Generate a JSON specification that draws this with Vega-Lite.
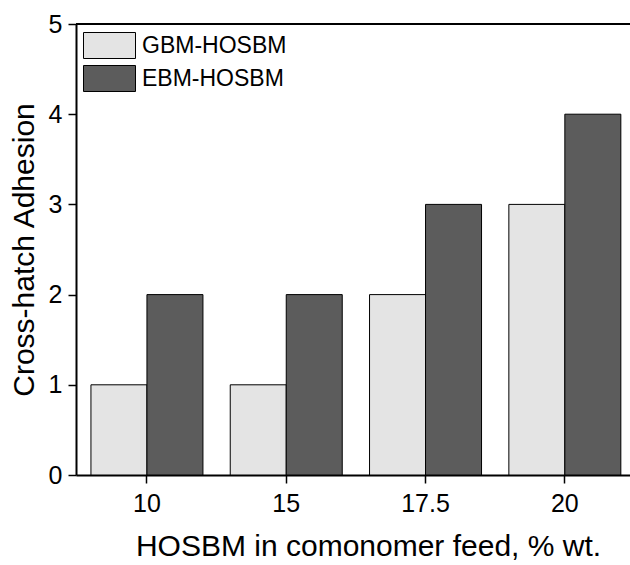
{
  "$schema": "https://vega.github.io/schema/vega-lite/v6.json",
  "width": 554,
  "height": 451,
  "autosize": {"type": "none"},
  "padding": {"left": 76, "top": 24, "right": 0, "bottom": 90},
  "background": "white",
  "config": {
    "view": {"stroke": null},
    "font": "Liberation Sans",
    "axis": {
      "domainColor": "black",
      "domainWidth": 2,
      "tickColor": "black",
      "tickWidth": 1.5,
      "tickSize": 8,
      "labelFontSize": 25,
      "labelColor": "black",
      "titleFontSize": 30,
      "titleFontWeight": "normal",
      "titleColor": "black",
      "grid": false
    }
  },
  "data": {
    "values": [
      {"feed": "10", "series": "GBM-HOSBM", "value": 1},
      {"feed": "10", "series": "EBM-HOSBM", "value": 2},
      {"feed": "15", "series": "GBM-HOSBM", "value": 1},
      {"feed": "15", "series": "EBM-HOSBM", "value": 2},
      {"feed": "17.5", "series": "GBM-HOSBM", "value": 2},
      {"feed": "17.5", "series": "EBM-HOSBM", "value": 3},
      {"feed": "20", "series": "GBM-HOSBM", "value": 3},
      {"feed": "20", "series": "EBM-HOSBM", "value": 4}
    ]
  },
  "layer": [
    {
      "mark": {"type": "bar", "stroke": "black", "strokeWidth": 1, "opacity": 1},
      "encoding": {
        "x": {
          "field": "feed",
          "type": "nominal",
          "sort": ["10", "15", "17.5", "20"],
          "scale": {"paddingInner": 0.196, "paddingOuter": 0.0865, "align": 0.62},
          "axis": {"title": "HOSBM in comonomer feed, % wt.", "labelAngle": 0, "labelPadding": 8, "titlePadding": 15, "titleX": 292, "titleAlign": "center"}
        },
        "xOffset": {
          "field": "series",
          "type": "nominal",
          "sort": ["GBM-HOSBM", "EBM-HOSBM"],
          "scale": {"paddingInner": 0, "paddingOuter": 0}
        },
        "y": {
          "field": "value",
          "type": "quantitative",
          "scale": {"domain": [0, 5], "nice": false},
          "axis": {"values": [0, 1, 2, 3, 4, 5], "format": "d", "title": "Cross-hatch Adhesion", "labelPadding": 6, "titlePadding": 9}
        },
        "color": {
          "field": "series",
          "type": "nominal",
          "sort": ["GBM-HOSBM", "EBM-HOSBM"],
          "scale": {"domain": ["GBM-HOSBM", "EBM-HOSBM"], "range": ["#e4e4e4", "#5c5c5c"]},
          "legend": {
            "title": null,
            "orient": "none",
            "legendX": 20,
            "legendY": 8,
            "symbolType": "M-2,-1H2V1H-2Z",
            "symbolSize": 676,
            "symbolStrokeColor": "black",
            "symbolStrokeWidth": 1,
            "symbolOpacity": 1,
            "labelFontSize": 23,
            "labelColor": "black",
            "labelOffset": 19,
            "rowPadding": 2
          }
        }
      }
    },
    {
      "mark": {"type": "rule", "color": "black", "strokeWidth": 2},
      "encoding": {"y": {"datum": 5}}
    }
  ]
}
